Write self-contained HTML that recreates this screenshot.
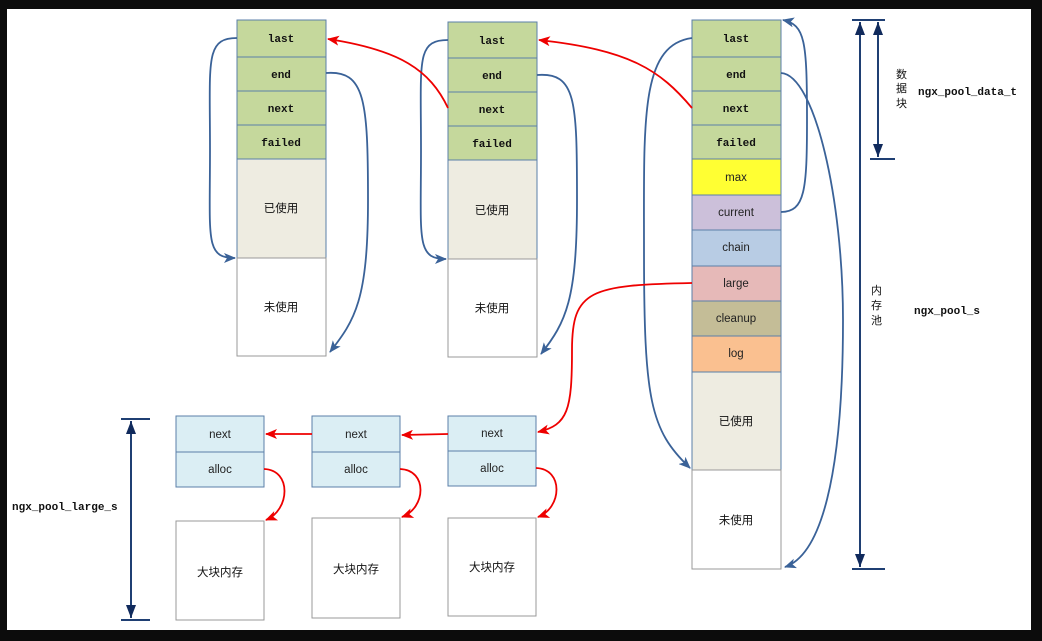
<!DOCTYPE html>
<html><head><meta charset="utf-8"><style>
body{margin:0;background:#0c0c0c;}
svg{display:block}
.m{font-family:"Liberation Mono","Noto Sans CJK SC",monospace;font-size:11px;font-weight:bold;fill:#111}
.s{font-family:"Liberation Sans","Noto Sans CJK SC",sans-serif;font-size:11.5px;fill:#222}
.c{font-family:"Liberation Sans","Noto Sans CJK SC",sans-serif;font-size:11.5px;fill:#111}
</style></head><body>
<svg width="1042" height="641" xmlns="http://www.w3.org/2000/svg">
<defs>
<marker id="ab" markerWidth="12" markerHeight="10" refX="11" refY="5" orient="auto" markerUnits="userSpaceOnUse"><path d="M0,0 L12,5 L0,10 L3,5z" fill="#3a6298"/></marker>
<marker id="ar" markerWidth="12" markerHeight="10" refX="11" refY="5" orient="auto" markerUnits="userSpaceOnUse"><path d="M0,0 L12,5 L0,10 L3,5z" fill="#e00"/></marker>
<marker id="ad" markerWidth="14" markerHeight="10" refX="13" refY="5" orient="auto-start-reverse" markerUnits="userSpaceOnUse"><path d="M0,0 L13,5 L0,10z" fill="#102a5c"/></marker>
</defs>
<rect x="7" y="9" width="1024" height="621" fill="#fff"/>
<g stroke="#5b7fa8" stroke-width="1">
<rect x="237" y="20" width="89" height="139" fill="#c5d89c"/>
<line x1="237" y1="57" x2="326" y2="57"/><line x1="237" y1="91" x2="326" y2="91"/><line x1="237" y1="125" x2="326" y2="125"/>
<rect x="237" y="159" width="89" height="99" fill="#eeece1"/>
<rect x="237" y="258" width="89" height="98" fill="#fff" stroke="#999"/>
<rect x="448" y="22" width="89" height="138" fill="#c5d89c"/>
<line x1="448" y1="58" x2="537" y2="58"/><line x1="448" y1="92" x2="537" y2="92"/><line x1="448" y1="126" x2="537" y2="126"/>
<rect x="448" y="160" width="89" height="99" fill="#eeece1"/>
<rect x="448" y="259" width="89" height="98" fill="#fff" stroke="#999"/>
<rect x="692" y="20" width="89" height="139" fill="#c5d89c"/>
<line x1="692" y1="57" x2="781" y2="57"/><line x1="692" y1="91" x2="781" y2="91"/><line x1="692" y1="125" x2="781" y2="125"/>
<rect x="692" y="159" width="89" height="36" fill="#ffff33"/>
<rect x="692" y="195" width="89" height="35" fill="#ccc0da"/>
<rect x="692" y="230" width="89" height="36" fill="#b8cce4"/>
<rect x="692" y="266" width="89" height="35" fill="#e6b9b8"/>
<rect x="692" y="301" width="89" height="35" fill="#c4bd97"/>
<rect x="692" y="336" width="89" height="36" fill="#fac090"/>
<rect x="692" y="372" width="89" height="98" fill="#eeece1"/>
<rect x="692" y="470" width="89" height="99" fill="#fff" stroke="#999"/>
<rect x="176" y="416" width="88" height="71" fill="#dbeef4"/><line x1="176" y1="452" x2="264" y2="452"/>
<rect x="312" y="416" width="88" height="71" fill="#dbeef4"/><line x1="312" y1="452" x2="400" y2="452"/>
<rect x="448" y="416" width="88" height="70" fill="#dbeef4"/><line x1="448" y1="451" x2="536" y2="451"/>
<rect x="176" y="521" width="88" height="99" fill="#fff" stroke="#999"/>
<rect x="312" y="518" width="88" height="100" fill="#fff" stroke="#999"/>
<rect x="448" y="518" width="88" height="98" fill="#fff" stroke="#999"/>
</g>
<g class="m" text-anchor="middle">
<text x="281" y="42">last</text><text x="281" y="78">end</text><text x="281" y="112">next</text><text x="281" y="146">failed</text>
<text x="492" y="44">last</text><text x="492" y="79">end</text><text x="492" y="113">next</text><text x="492" y="147">failed</text>
<text x="736" y="42">last</text><text x="736" y="78">end</text><text x="736" y="112">next</text><text x="736" y="146">failed</text>
</g>
<g class="c" text-anchor="middle">
<text x="281" y="212">已使用</text><text x="281" y="311">未使用</text>
<text x="492" y="214">已使用</text><text x="492" y="312">未使用</text>
<text x="736" y="425">已使用</text><text x="736" y="524">未使用</text>
<text x="220" y="576">大块内存</text><text x="356" y="573">大块内存</text><text x="492" y="571">大块内存</text>
</g>
<g class="s" text-anchor="middle">
<text x="736" y="181">max</text><text x="736" y="216">current</text><text x="736" y="251">chain</text><text x="736" y="287">large</text><text x="736" y="322">cleanup</text><text x="736" y="357">log</text>
<text x="220" y="438">next</text><text x="220" y="473">alloc</text>
<text x="356" y="438">next</text><text x="356" y="473">alloc</text>
<text x="492" y="437">next</text><text x="492" y="472">alloc</text>
</g>
<g fill="none" stroke="#3a6298" stroke-width="1.8">
<path d="M237,38 C205,38 210,60 210,150 C210,240 205,258 235,258" marker-end="url(#ab)"/>
<path d="M326,73 C365,70 368,100 368,200 C368,300 355,320 330,352" marker-end="url(#ab)"/>
<path d="M448,40 C416,40 421,60 421,150 C421,240 416,259 446,259" marker-end="url(#ab)"/>
<path d="M537,75 C576,72 577,100 577,200 C577,300 566,322 541,354" marker-end="url(#ab)"/>
<path d="M692,38 C640,45 644,120 644,250 C644,400 650,430 690,468" marker-end="url(#ab)"/>
<path d="M781,73 C815,75 843,200 843,320 C843,480 820,555 785,567" marker-end="url(#ab)"/>
<path d="M781,212 C805,212 807,190 807,120 C807,40 805,25 783,20" marker-end="url(#ab)"/>
</g>
<g fill="none" stroke="#e00" stroke-width="1.8">
<path d="M448,108 C430,70 400,50 328,39" marker-end="url(#ar)"/>
<path d="M692,108 C660,70 630,50 539,40" marker-end="url(#ar)"/>
<path d="M692,283 C590,285 572,290 572,350 C572,410 568,425 538,432" marker-end="url(#ar)"/>
<path d="M448,434 L402,435" marker-end="url(#ar)"/>
<path d="M312,434 L266,434" marker-end="url(#ar)"/>
<path d="M264,469 C292,470 290,510 266,520" marker-end="url(#ar)"/>
<path d="M400,469 C428,470 426,508 402,517" marker-end="url(#ar)"/>
<path d="M536,468 C564,469 562,508 538,517" marker-end="url(#ar)"/>
</g>
<g stroke="#1f3f73" stroke-width="2">
<line x1="852" y1="20" x2="885" y2="20"/><line x1="852" y1="569" x2="885" y2="569"/>
<line x1="870" y1="159" x2="895" y2="159"/>
<line x1="860" y1="22" x2="860" y2="567" marker-start="url(#ad)" marker-end="url(#ad)"/>
<line x1="878" y1="22" x2="878" y2="157" marker-start="url(#ad)" marker-end="url(#ad)"/>
<line x1="121" y1="419" x2="150" y2="419"/><line x1="121" y1="620" x2="150" y2="620"/>
<line x1="131" y1="421" x2="131" y2="618" marker-start="url(#ad)" marker-end="url(#ad)"/>
</g>
<g class="c" style="font-size:11px">
<text x="896" y="78">数</text><text x="896" y="92">据</text><text x="896" y="107">块</text>
<text x="871" y="294">内</text><text x="871" y="309">存</text><text x="871" y="324">池</text>
</g>
<g class="m">
<text x="918" y="95">ngx_pool_data_t</text>
<text x="914" y="314">ngx_pool_s</text>
<text x="12" y="510">ngx_pool_large_s</text>
</g>
</svg>
</body></html>
